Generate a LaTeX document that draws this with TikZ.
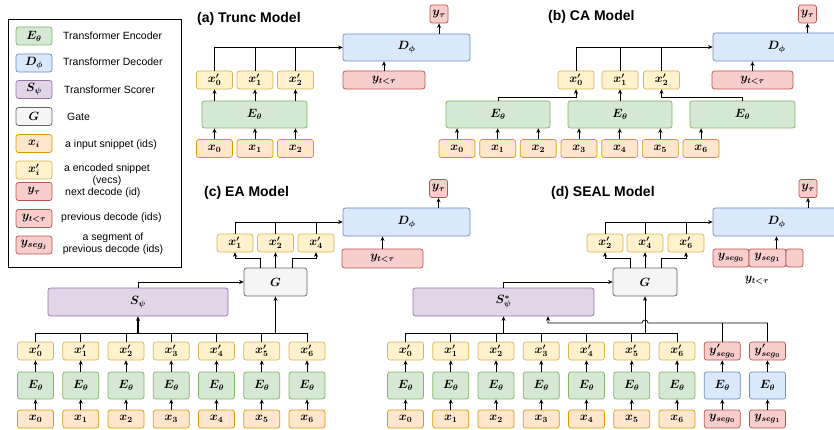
\documentclass[tikz,border=0pt]{standalone}
\usepackage[no-math]{fontspec}
\usepackage{bm}
\newfontfamily\sffontx{Liberation Sans}
\usetikzlibrary{arrows.meta}
\definecolor{encF}{HTML}{D5E8D4}\definecolor{encD}{HTML}{82B366}
\definecolor{decF}{HTML}{DAE8FC}\definecolor{decD}{HTML}{6C8EBF}
\definecolor{scrF}{HTML}{E1D5E7}\definecolor{scrD}{HTML}{9673A6}
\definecolor{gatF}{HTML}{F5F5F5}\definecolor{gatD}{HTML}{666666}
\definecolor{inpF}{HTML}{FFE6CC}\definecolor{inpD}{HTML}{D79B00}
\definecolor{embF}{HTML}{FFF2CC}\definecolor{embD}{HTML}{D6B656}
\definecolor{redF}{HTML}{F8CECC}\definecolor{redD}{HTML}{B85450}
\tikzset{
  bx/.style={draw, rounded corners=2.5pt, line width=0.7pt, inner sep=0pt, font=\fontsize{12}{13}\selectfont},
  enc/.style={bx, fill=encF, draw=encD},
  dec/.style={bx, fill=decF, draw=decD},
  scr/.style={bx, fill=scrF, draw=scrD},
  gate/.style={bx, fill=gatF, draw=gatD},
  inp/.style={bx, fill=inpF, draw=inpD},
  emb/.style={bx, fill=embF, draw=embD},
  ybox/.style={bx, fill=redF, draw=redD},
  sm/.style={minimum width=36pt, minimum height=18pt},
  tall/.style={minimum width=36pt, minimum height=27pt},
  tiny/.style={minimum width=18pt, minimum height=18pt},
  arr/.style={-{Stealth[length=4.5pt,width=4pt]}, line width=0.7pt},
  ln/.style={line width=0.7pt},
  ttl/.style={font=\sffontx\bfseries\fontsize{14}{16}\selectfont, anchor=west, inner sep=0pt},
  lg/.style={font=\sffontx\fontsize{10.5}{12.5}\selectfont, inner sep=0pt},
}
\begin{document}
\begin{tikzpicture}[x=1pt,y=-1pt]
\useasboundingbox (0,0) rectangle (834,430);
\clip (0,0) rectangle (834,430);

% ---------------- Legend ----------------
\node[draw=black, line width=0.8pt, minimum width=173pt, minimum height=248pt, inner sep=0pt] (legend) at (94.5,143) {};
\node[enc, sm] (lE) at (34,36) {$\bm{E_\theta}$};
\node[dec, sm] (lD) at (34,63) {$\bm{D_\phi}$};
\node[scr, sm] (lS) at (34,89.5) {$\bm{S_\psi}$};
\node[gate, sm] (lG) at (34,116.5) {$\bm{G}$};
\node[inp, sm] (lx) at (34,143.5) {$\bm{x_i}$};
\node[emb, sm] (lxp) at (34,170) {$\bm{x'_i}$};
\node[ybox, sm] (lyT) at (34,191.5) {$\bm{y_\tau}$};
\node[ybox, sm] (lyt) at (34,218.5) {$\bm{y_{t<\tau}}$};
\node[ybox, sm, font=\fontsize{13}{14}\selectfont] (lys) at (34,245) {$\bm{y_{seg_j}}$};
\node[lg, anchor=west] (tE) at (63,36) {Transformer Encoder};
\node[lg, anchor=west] (tD) at (63,62) {Transformer Decoder};
\node[lg, anchor=west] (tS) at (64,90) {Transformer Scorer};
\node[lg, anchor=west] (tG) at (67,117) {Gate};
\node[lg, anchor=west] (tx) at (65,145) {a input snippet (ids)};
\node[lg, align=center] (txp) at (107,175) {a encoded snippet\\(vecs)};
\node[lg, anchor=west] (tyT) at (65,193) {next decode (id)};
\node[lg, anchor=west] (tyt) at (61,218) {previous decode (ids)};
\node[lg, align=center] (tys) at (113,244) {a segment of\\previous decode (ids)};

% ---------------- (a) Trunc Model ----------------
\node[ttl] (ta) at (197,19) {(a) Trunc Model};
\node[enc, minimum width=105pt, minimum height=27pt] (aE) at (254.5,114.5) {$\bm{E_\theta}$};
\foreach \i in {0,1,2} {
  \pgfmathsetmacro\px{214.5+40.5*\i}
  \node[inp, sm] (ax\i) at (\px,148.5) {$\bm{x_\i}$};
  \node[emb, sm] (axp\i) at (\px,80) {$\bm{x'_\i}$};
  \draw[arr] (ax\i.north) -- (ax\i.north |- aE.south);
  \draw[arr] (ax\i.north |- aE.north) -- (axp\i.south);
}
\node[dec, minimum width=127pt, minimum height=27pt] (aD) at (406.5,47.5) {$\bm{D_\phi}$};
\node[ybox, minimum width=82pt, minimum height=18pt] (ayt) at (384,80) {$\bm{y_{t<\tau}}$};
\node[ybox, tiny] (ayT) at (439,14) {$\bm{y_\tau}$};
\draw[arr] (axp0.north) |- (aD.west);
\draw[ln] (axp1.north) -- (axp1.north |- aD.west);
\draw[ln] (axp2.north) -- (axp2.north |- aD.west);
\draw[arr] (ayt.north) -- (ayt.north |- aD.south);
\draw[arr] (ayT.south |- aD.north) -- (ayT.south);

% ---------------- (b) CA Model ----------------
\node[ttl] (tb) at (548,17) {(b) CA Model};
\node[enc, minimum width=104pt, minimum height=27pt] (bE1) at (498,114.5) {$\bm{E_\theta}$};
\node[enc, minimum width=104pt, minimum height=27pt] (bE2) at (620,114.5) {$\bm{E_\theta}$};
\node[enc, minimum width=105pt, minimum height=27pt] (bE3) at (742.5,114.5) {$\bm{E_\theta}$};
\foreach \i in {0,...,6} {
  \pgfmathsetmacro\px{457+40.67*\i}
  \node[inp, sm] (bx\i) at (\px,148.5) {$\bm{x_\i}$};
  \draw[arr] (bx\i.north) -- (bx\i.north |- bE1.south);
}
\node[emb, sm] (bxp0) at (576,80) {$\bm{x'_0}$};
\node[emb, sm] (bxp1) at (620,80) {$\bm{x'_1}$};
\node[emb, sm] (bxp2) at (661.5,80) {$\bm{x'_2}$};
\coordinate (bmid) at (0,97);
\draw[arr] (bE1.north) -- (bE1.north |- bmid) -| (bxp0.south);
\draw[arr] (bE2.north) -- (bxp1.south);
\draw[arr] (bE3.north) -- (bE3.north |- bmid) -| (bxp2.south);
\node[dec, minimum width=127pt, minimum height=28pt] (bD) at (776.5,47) {$\bm{D_\phi}$};
\node[ybox, minimum width=81pt, minimum height=18pt] (byt) at (752.5,80) {$\bm{y_{t<\tau}}$};
\node[ybox, tiny] (byT) at (807.5,14) {$\bm{y_\tau}$};
\draw[arr] (bxp0.north) |- (bD.west);
\draw[ln] (bxp1.north) -- (bxp1.north |- bD.west);
\draw[ln] (bxp2.north) -- (bxp2.north |- bD.west);
\draw[arr] (byt.north) -- (byt.north |- bD.south);
\draw[arr] (byT.south |- bD.north) -- (byT.south);

% ---------------- (c) EA Model ----------------
\node[ttl] (tc) at (204,193) {(c) EA Model};
\coordinate (cbus) at (0,333);
\foreach \i in {0,...,6} {
  \pgfmathsetmacro\px{35.5+45.25*\i}
  \node[inp, sm] (cx\i) at (\px,419) {$\bm{x_\i}$};
  \node[enc, tall] (cE\i) at (\px,385.5) {$\bm{E_\theta}$};
  \node[emb, sm] (cxp\i) at (\px,351) {$\bm{x'_\i}$};
  \draw[arr] (cx\i) -- (cE\i);
  \draw[arr] (cE\i) -- (cxp\i);
  \draw[ln] (cxp\i.north) -- (cxp\i.north |- cbus);
}
\draw[ln] (cxp0.north |- cbus) -- (cxp6.north |- cbus);
\node[scr, minimum width=180pt, minimum height=28pt] (cS) at (138,302) {$\bm{S_\psi}$};
\node[gate, minimum width=63pt, minimum height=28pt] (cG) at (275.5,282) {$\bm{G}$};
\draw[arr, line width=1.4pt] (cS.south |- cbus) -- (cS.south);
\draw[arr] (cG.south |- cbus) -- (cG.south);
\draw[arr] (cS.north) |- (cG.west);
\node[emb, sm] (ct1) at (235,243) {$\bm{x'_1}$};
\node[emb, sm] (ct2) at (275.5,243) {$\bm{x'_2}$};
\node[emb, sm] (ct4) at (316,243) {$\bm{x'_4}$};
\draw[arr] ([xshift=-15.5pt]cG.north) -- ++(0,-9) -| (ct1.south);
\draw[arr] (cG.north) -- (ct2.south);
\draw[arr] ([xshift=16.5pt]cG.north) -- ++(0,-9) -| (ct4.south);
\node[dec, minimum width=127pt, minimum height=28pt] (cD) at (406.5,222) {$\bm{D_\phi}$};
\node[ybox, minimum width=81pt, minimum height=19pt] (cyt) at (382.5,258.5) {$\bm{y_{t<\tau}}$};
\node[ybox, tiny] (cyT) at (438.5,188.5) {$\bm{y_\tau}$};
\draw[arr] (ct1.north) |- (cD.west);
\draw[ln] (ct2.north) -- (ct2.north |- cD.west);
\draw[ln] (ct4.north) -- (ct4.north |- cD.west);
\draw[arr] (cyt.north) -- (cyt.north |- cD.south);
\draw[arr] (cyT.south |- cD.north) -- (cyT.south);

% ---------------- (d) SEAL Model ----------------
\node[ttl] (td) at (551,193) {(d) SEAL Model};
\coordinate (dbus) at (0,333);
\foreach \i in {0,...,6} {
  \pgfmathsetmacro\px{405.5+45.25*\i}
  \node[inp, sm] (dx\i) at (\px,419) {$\bm{x_\i}$};
  \node[enc, tall] (dE\i) at (\px,385.5) {$\bm{E_\theta}$};
  \node[emb, sm] (dxp\i) at (\px,351) {$\bm{x'_\i}$};
  \draw[arr] (dx\i) -- (dE\i);
  \draw[arr] (dE\i) -- (dxp\i);
  \draw[ln] (dxp\i.north) -- (dxp\i.north |- dbus);
}
\node[ybox, sm] (dys0) at (722.25,419) {$\bm{y_{seg_0}}$};
\node[ybox, sm] (dys1) at (767.5,419) {$\bm{y_{seg_1}}$};
\node[dec, tall] (dE7) at (722.25,385.5) {$\bm{E_\theta}$};
\node[dec, tall] (dE8) at (767.5,385.5) {$\bm{E_\theta}$};
\node[ybox, sm] (dyp0) at (722.25,351) {$\bm{y'_{seg_0}}$};
\node[ybox, sm] (dyp1) at (767.5,351) {$\bm{y'_{seg_0}}$};
\draw[arr] (dys0) -- (dE7);
\draw[arr] (dys1) -- (dE8);
\draw[arr] (dE7) -- (dyp0);
\draw[arr] (dE8) -- (dyp1);
\draw[ln] (dxp0.north |- dbus) -- (dxp6.north |- dbus);
\node[scr, minimum width=181pt, minimum height=28pt] (dS) at (503.5,302) {$\bm{S^*_\psi}$};
\node[gate, minimum width=64pt, minimum height=28pt] (dG) at (645,282) {$\bm{G}$};
\draw[arr] (dS.south |- dbus) -- (dS.south);
\draw[arr] (dG.south |- dbus) -- (dG.south);
\draw[arr] (dS.north) |- (dG.west);
\coordinate (dseg) at (548,323);
\coordinate (dhop) at (648,323);
\draw[ln] (dyp0.north) -- (dyp0.north |- dseg);
\draw[arr] (dyp1.north) |- (dhop) arc[start angle=0, end angle=180, radius=3pt] -- (dseg) -- (dseg |- dS.south);
\node[emb, sm] (dt2) at (605,243) {$\bm{x'_2}$};
\node[emb, sm] (dt4) at (645,243) {$\bm{x'_4}$};
\node[emb, sm] (dt6) at (686,243) {$\bm{x'_6}$};
\draw[arr] ([xshift=-15pt]dG.north) -- ++(0,-9) -| (dt2.south);
\draw[arr] (dG.north) -- (dt4.south);
\draw[arr] ([xshift=16pt]dG.north) -- ++(0,-9) -| (dt6.south);
\node[dec, minimum width=127pt, minimum height=28pt] (dD) at (776.5,222) {$\bm{D_\phi}$};
\node[ybox, minimum width=36pt, minimum height=18pt] (dq0) at (731,258) {$\bm{y_{seg_0}}$};
\node[ybox, minimum width=37pt, minimum height=18pt] (dq1) at (767.5,258) {$\bm{y_{seg_1}}$};
\node[ybox, minimum width=17pt, minimum height=18pt] (dq2) at (794.5,258) {};
\node[font=\fontsize{12}{13}\selectfont, inner sep=0pt] (dql) at (757,280) {$\bm{y_{t<\tau}}$};
\node[ybox, tiny] (dyT) at (808,188.5) {$\bm{y_\tau}$};
\draw[arr] (dt2.north) |- (dD.west);
\draw[ln] (dt4.north) -- (dt4.north |- dD.west);
\draw[ln] (dt6.north) -- (dt6.north |- dD.west);
\draw[arr] (dD.south |- dq1.north) -- (dD.south);
\draw[arr] (dyT.south |- dD.north) -- (dyT.south);
\end{tikzpicture}
\end{document}
